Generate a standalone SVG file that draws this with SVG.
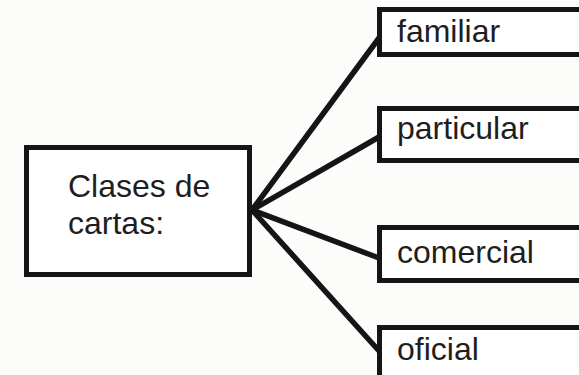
<svg xmlns="http://www.w3.org/2000/svg" width="579" height="375" viewBox="0 0 579 375">
<style>
.box{fill:#fff;stroke:#151515;stroke-width:5}
.lbl{font-family:"Liberation Sans",Arial,sans-serif;font-size:32px;fill:#1e1e1e}
.conn{stroke:#151515;stroke-width:5.5;stroke-linecap:round;fill:none}
</style>
<rect width="579" height="375" fill="#fcfcfa"/>
<g id="connectors">
<line class="conn" x1="252" y1="210" x2="379" y2="38"/>
<line class="conn" x1="252" y1="210" x2="379" y2="137"/>
<line class="conn" x1="252" y1="210" x2="379" y2="258"/>
<line class="conn" x1="252" y1="210" x2="380" y2="352"/>
</g>
<g id="clases">
<rect class="box" x="26.5" y="147.5" width="223" height="127"/>
<text class="lbl" x="68" y="197">Clases de</text>
<text class="lbl" x="68" y="234">cartas:</text>
</g>
<g id="familiar">
<rect class="box" x="379.5" y="9.5" width="210" height="45"/>
<text class="lbl" x="397" y="42">familiar</text>
</g>
<g id="particular">
<rect class="box" x="379.5" y="108.5" width="210" height="52"/>
<text class="lbl" x="397" y="139">particular</text>
</g>
<g id="comercial">
<rect class="box" x="379.5" y="227.5" width="210" height="53"/>
<text class="lbl" x="397" y="263">comercial</text>
</g>
<g id="oficial">
<rect class="box" x="379.5" y="327.5" width="210" height="60"/>
<text class="lbl" x="397" y="360">oficial</text>
</g>
</svg>
